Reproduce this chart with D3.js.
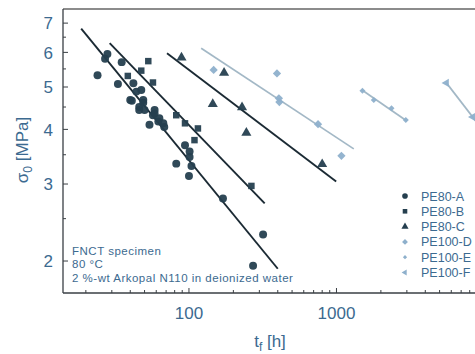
<!DOCTYPE html>
<html><head><meta charset="utf-8">
<script src="https://cdn.jsdelivr.net/npm/d3@7"></script>
<style>body{margin:0;background:#fff}svg{display:block}</style>
</head><body>
<svg id="c" width="475" height="354"></svg>
<script>
// ---- data ----
const seriesNames = ["PE80-A","PE80-B","PE80-C","PE100-D","PE100-E","PE100-F"];
const pe80A = [[24,5.32],[28,5.95],[27,5.8],[35,5.7],[33,5.08],[40,4.67],[41,4.65],[42,5.1],[44,4.88],[47.5,4.92],
  [46,4.5],[49,4.6],[46,4.43],[50,4.43],[49,4.67],[54,4.1],[58.5,4.35],[62,4.17],[57,4.31],[63,4.24],[67,4.13],
  [68,4.05],[58.5,4.43],[94,3.68],[101,3.56],[101,3.46],[104,3.3],[82,3.34],[100,3.13],[318,2.3],[272,1.95],[170,2.78]];
const pe80B = [[53,5.73],[47.5,5.45],[38.5,5.3],[57,5.12],[82,4.31],[94,4.13],[115,4.02],[109,3.78],[265,2.97]];
const pe80C = [[89,5.84],[173,5.39],[145,4.57],[229,4.49],[245,3.93],[800,3.33]];
const pe100D = [[147,5.47],[395,5.37],[407,4.71],[410,4.62],[750,4.11],[1080,3.48]];
const pe100E = [[1500,4.9],[1790,4.67],[2360,4.47],[2950,4.2]];
const pe100F = [[5560,5.11],[8400,4.27]];
const fitLines = {
  A:[[18.6,6.8],[400,1.92]],
  B:[[29,6.3],[326,2.71]],
  C:[[71,5.97],[995,3.04]],
  D:[[121,6.13],[1310,3.61]],
  E:[[1480,4.93],[3000,4.18]],
  F:[[5560,5.11],[9350,4.07]]
};
const yMajor = [2,3,4,5,6,7];
const yMinor = [2.5,3.5,4.5,5.5,6.5];
const xMajor = [100,1000];
const xMinor = [20,30,40,50,60,70,80,90,200,300,400,500,600,700,800,900,2000,3000,4000,5000,6000,7000,8000,9000];
const notes = ["FNCT specimen","80 °C","2 %-wt Arkopal N110 in deionized water"];

// ---- layout ----
const svg = d3.select("#c");
const L=63, T=9, B=293, R=484;
const x = d3.scaleLog().domain([14,10000]).range([L,R]);
const y = d3.scaleLog().domain([1.69,7.54]).range([B,T]);
const dark="#253f4f", darkLine="#1b2a34", light="#8eb0cc", lightLine="#a3b8c6", txt="#3c6a90", axisC="#3a3f44";
const font="Liberation Sans, Arial, sans-serif";

// frame
svg.append("line").attr("x1",L).attr("x2",R).attr("y1",T).attr("y2",T).attr("stroke","#666").attr("stroke-width",1.3);
svg.append("line").attr("x1",L).attr("x2",L).attr("y1",T).attr("y2",B).attr("stroke",axisC).attr("stroke-width",1.3);
svg.append("line").attr("x1",L).attr("x2",R).attr("y1",B).attr("y2",B).attr("stroke",axisC).attr("stroke-width",1.3);

// y ticks
yMajor.forEach(v=>{
  svg.append("line").attr("x1",L).attr("x2",L+5).attr("y1",y(v)).attr("y2",y(v)).attr("stroke",axisC).attr("stroke-width",1);
  svg.append("text").attr("x",53).attr("y",y(v)).attr("dy","0.36em").attr("text-anchor","end")
    .attr("font-family",font).attr("font-size",17).attr("fill",txt).text(v);
});
yMinor.forEach(v=>{
  svg.append("line").attr("x1",L).attr("x2",L+3).attr("y1",y(v)).attr("y2",y(v)).attr("stroke",axisC).attr("stroke-width",1);
});
// x ticks
xMajor.forEach(v=>{
  svg.append("line").attr("x1",x(v)).attr("x2",x(v)).attr("y1",B).attr("y2",B-5).attr("stroke",axisC).attr("stroke-width",1);
  svg.append("text").attr("x",x(v)).attr("y",319).attr("text-anchor","middle")
    .attr("font-family",font).attr("font-size",17).attr("fill",txt).text(v);
});
xMinor.forEach(v=>{
  svg.append("line").attr("x1",x(v)).attr("x2",x(v)).attr("y1",B).attr("y2",B-3).attr("stroke",axisC).attr("stroke-width",1);
});

// axis titles
const yt = svg.append("text").attr("transform","translate(28,150) rotate(-90)").attr("text-anchor","middle")
  .attr("font-family",font).attr("font-size",17).attr("fill",txt);
yt.append("tspan").text("σ");
yt.append("tspan").attr("font-size",12).attr("dy",4).text("0");
yt.append("tspan").attr("dy",-4).text(" [MPa]");
const xt = svg.append("text").attr("x",270).attr("y",347).attr("text-anchor","middle")
  .attr("font-family",font).attr("font-size",17).attr("fill",txt);
xt.append("tspan").text("t");
xt.append("tspan").attr("font-size",12).attr("dy",4).text("f");
xt.append("tspan").attr("dy",-4).text(" [h]");

// clip
svg.append("clipPath").attr("id","pc").append("rect").attr("x",L).attr("y",T).attr("width",R-L).attr("height",B-T);
const g = svg.append("g").attr("clip-path","url(#pc)");

// fit lines
const lineGen = d3.line().x(d=>x(d[0])).y(d=>y(d[1]));
["A","B","C"].forEach(k=> g.append("path").attr("d",lineGen(fitLines[k])).attr("stroke",darkLine).attr("stroke-width",1.9).attr("fill","none"));
["D","E","F"].forEach(k=> g.append("path").attr("d",lineGen(fitLines[k])).attr("stroke",lightLine).attr("stroke-width",1.7).attr("fill","none"));

// markers
const sym = {
  "PE80-A":{t:d3.symbolCircle,s:50,c:dark},
  "PE80-B":{t:d3.symbolSquare,s:42,c:dark},
  "PE80-C":{t:d3.symbolTriangle,s:44,c:dark},
  "PE100-D":{t:d3.symbolSquare,s:34,c:light,rot:45},
  "PE100-E":{t:d3.symbolSquare,s:18,c:light,rot:45},
  "PE100-F":{t:d3.symbolTriangle,s:30,c:light,rot:-90}
};
const dataMap = {"PE80-A":pe80A,"PE80-B":pe80B,"PE80-C":pe80C,"PE100-D":pe100D,"PE100-E":pe100E,"PE100-F":pe100F};
seriesNames.forEach(n=>{
  const m = sym[n];
  g.selectAll(null).data(dataMap[n]).enter().append("path")
    .attr("d",d3.symbol().type(m.t).size(m.s))
    .attr("transform",d=>`translate(${x(d[0])},${y(d[1])})`+(m.rot?` rotate(${m.rot})`:""))
    .attr("fill",m.c).attr("opacity",0.95);
});

// legend
seriesNames.forEach((n,i)=>{
  const m = sym[n], yy = 196 + i*15.3;
  svg.append("path").attr("d",d3.symbol().type(m.t).size(m.s*0.5))
    .attr("transform",`translate(405,${yy})`+(m.rot?` rotate(${m.rot})`:"")).attr("fill",m.c);
  svg.append("text").attr("x",421).attr("y",yy).attr("dy","0.36em").attr("font-family",font)
    .attr("font-size",12.5).attr("fill",txt).text(n);
});

// notes
notes.forEach((s,i)=>{
  svg.append("text").attr("x",72).attr("y",254.5+i*13.5).attr("font-family",font).attr("font-size",11.5)
    .attr("letter-spacing",0.5).attr("fill",txt).text(s);
});
</script>
</body></html>
